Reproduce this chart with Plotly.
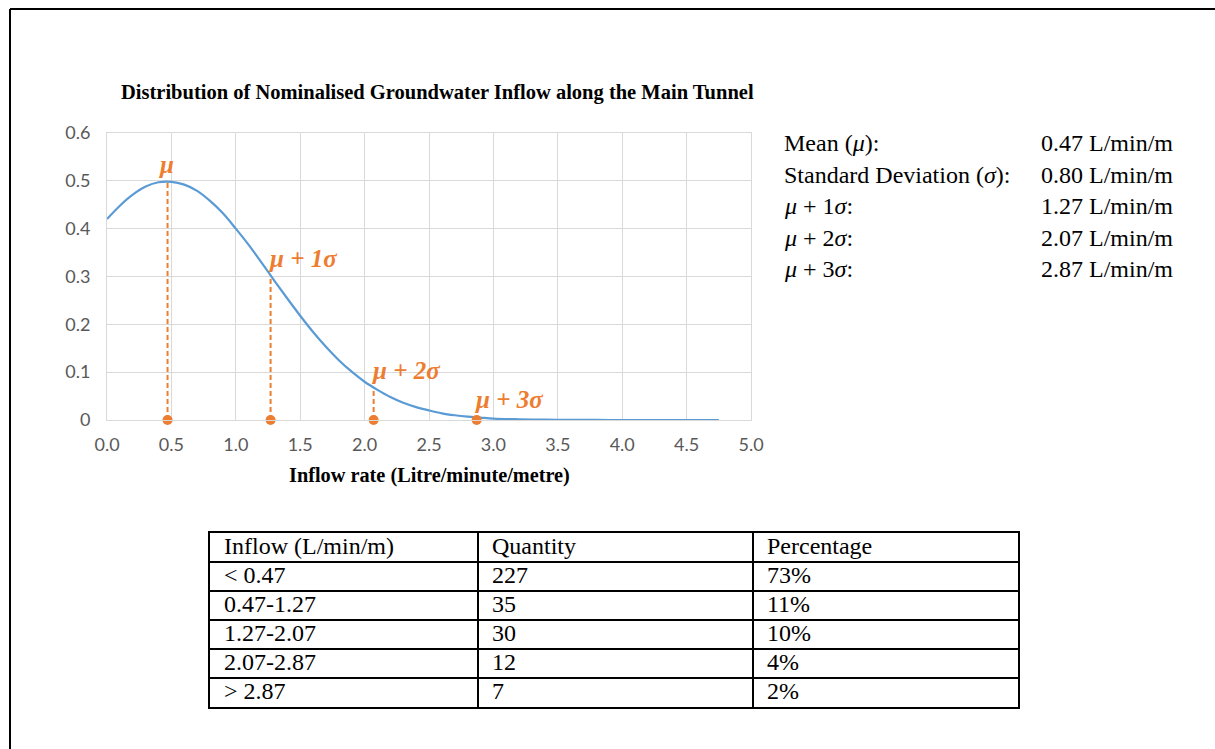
import plotly.graph_objects as go

# body margin is removed by a post script -> figure fills the 1215x749 page
OFF = 0
W, H = 1215, 749

# ---------------- data ----------------
curve_x = [0.0, 0.1, 0.2, 0.3, 0.4, 0.5, 0.6, 0.7, 0.8, 0.9, 1.0, 1.1, 1.2, 1.3, 1.4,
           1.5, 1.6, 1.7, 1.8, 1.9, 2.0, 2.1, 2.2, 2.3, 2.4, 2.5, 2.6, 2.7, 2.8, 2.9,
           3.0, 3.2, 3.4, 3.6, 3.8, 4.0, 4.2, 4.4, 4.6, 4.75]
curve_y = [0.420, 0.448, 0.471, 0.488, 0.497, 0.498, 0.492, 0.479, 0.458, 0.432,
           0.400, 0.366, 0.329, 0.291, 0.254, 0.218, 0.184, 0.153, 0.125, 0.101,
           0.080, 0.063, 0.048, 0.036, 0.027, 0.020, 0.014, 0.010, 0.007, 0.005,
           0.003, 0.0015, 0.0006, 0.0002, 0.0001, 0.0, 0.0, 0.0, 0.0, 0.0]

sigma_x = [0.47, 1.27, 2.07, 2.87]
sigma_y = [0.499, 0.302, 0.068, 0.006]
sigma_labels = ["μ", "μ + 1σ", "μ + 2σ", "μ + 3σ"]

x_ticks = [0.0, 0.5, 1.0, 1.5, 2.0, 2.5, 3.0, 3.5, 4.0, 4.5, 5.0]
y_ticks = [0, 0.1, 0.2, 0.3, 0.4, 0.5, 0.6]

stat_labels = ["Mean (<i>μ</i>):", "Standard Deviation (<i>σ</i>):",
               "<i>μ</i> + 1<i>σ</i>:", "<i>μ</i> + 2<i>σ</i>:", "<i>μ</i> + 3<i>σ</i>:"]
stat_values = ["0.47 L/min/m", "0.80 L/min/m", "1.27 L/min/m", "2.07 L/min/m", "2.87 L/min/m"]

table_header = ["Inflow (L/min/m)", "Quantity", "Percentage"]
inflow_ranges = ["< 0.47", "0.47-1.27", "1.27-2.07", "2.07-2.87", "> 2.87"]
quantities = [227, 35, 30, 12, 7]
percentages = ["73%", "11%", "10%", "4%", "2%"]

# ---------------- styling ----------------
BLUE = "#5B9BD5"
ORANGE = "#ED7D31"
GRID = "#D9D9D9"
SERIF = "Liberation Serif"
TXT = 24


def px_x(p):
    return (p - OFF) / W


def px_y(p):
    return 1 - (p - OFF) / H


fig = go.Figure()

# dashed drop lines
for xv, yv in zip(sigma_x, sigma_y):
    fig.add_trace(go.Scatter(x=[xv, xv], y=[0, yv], mode="lines",
                             line=dict(color=ORANGE, width=2, dash="5px,3px"),
                             showlegend=False, hoverinfo="skip"))

# curve
fig.add_trace(go.Scatter(x=curve_x, y=curve_y, mode="lines",
                         line=dict(color=BLUE, width=2.2, shape="spline"),
                         showlegend=False))

# markers on the axis
fig.add_trace(go.Scatter(x=sigma_x, y=[0] * len(sigma_x), mode="markers",
                         marker=dict(color=ORANGE, size=10), cliponaxis=False,
                         showlegend=False))

# sigma labels
for i, (xv, yv, lab) in enumerate(zip(sigma_x, sigma_y, sigma_labels)):
    fig.add_annotation(x=xv - 0.01 if i == 0 else xv - 0.035, y=yv + 0.036,
                       xref="x", yref="y", text=f"<b><i>{lab}</i></b>",
                       showarrow=False, xanchor="center" if i == 0 else "left",
                       yanchor="middle",
                       font=dict(family=SERIF, size=25, color=ORANGE))

# ---------------- table (on its own axes) ----------------
col_edges = [0, 268, 543, 808]
col_pad = 14
table_cols = [[table_header[0]] + inflow_ranges,
              [table_header[1]] + [str(q) for q in quantities],
              [table_header[2]] + percentages]
n_rows = len(inflow_ranges) + 1
for c, col in enumerate(table_cols):
    fig.add_trace(go.Scatter(
        x=[col_edges[c] + col_pad] * n_rows,
        y=[r + 0.5 for r in range(n_rows)],
        mode="text", text=col, textposition="middle right",
        textfont=dict(family=SERIF, size=TXT, color="black"),
        xaxis="x2", yaxis="y2", cliponaxis=False, showlegend=False,
        hoverinfo="skip"))

# stats text at right
row_y = [143, 174.5, 206, 237.5, 269]
for ly, lab, val in zip(row_y, stat_labels, stat_values):
    fig.add_annotation(x=px_x(782), y=px_y(ly), xref="paper", yref="paper",
                       text=lab, showarrow=False, xanchor="left", yanchor="middle",
                       font=dict(family=SERIF, size=TXT, color="black"))
    fig.add_annotation(x=px_x(1039), y=px_y(ly), xref="paper", yref="paper",
                       text=val, showarrow=False, xanchor="left", yanchor="middle",
                       font=dict(family=SERIF, size=TXT, color="black"))

# chart title
fig.add_annotation(x=px_x(437), y=px_y(92), xref="paper", yref="paper",
                   text="<b>Distribution of Nominalised Groundwater Inflow along the Main Tunnel</b>",
                   showarrow=False, xanchor="center", yanchor="middle",
                   font=dict(family=SERIF, size=20.5, color="black"))

# x axis title
fig.add_annotation(x=px_x(429), y=px_y(476), xref="paper", yref="paper",
                   text="<b>Inflow rate (Litre/minute/metre)</b>",
                   showarrow=False, xanchor="center", yanchor="middle",
                   font=dict(family=SERIF, size=20.3, color="black"))

# outer frame
fig.add_shape(type="line", xref="paper", yref="paper",
              x0=px_x(10), x1=1.0, y0=px_y(9), y1=px_y(9),
              line=dict(color="black", width=2))
fig.add_shape(type="line", xref="paper", yref="paper",
              x0=px_x(10), x1=px_x(10), y0=px_y(9), y1=0.0,
              line=dict(color="black", width=2))

fig.update_layout(
    width=W, height=H,
    margin=dict(l=0, r=0, t=0, b=0, pad=0, autoexpand=False),
    paper_bgcolor="white", plot_bgcolor="white",
    showlegend=False,
    xaxis=dict(domain=[px_x(107), px_x(751)], range=[0, 5], automargin=False,
               tickvals=x_ticks, tickformat=".1f",
               showgrid=True, gridcolor=GRID, gridwidth=1, zeroline=False,
               showline=True, linecolor=GRID, linewidth=1, mirror=True,
               ticks="outside", ticklen=8, tickcolor="rgba(0,0,0,0)",
               tickfont=dict(family="Lato", size=18, color="#595959"),
               fixedrange=True),
    yaxis=dict(domain=[px_y(420), px_y(133)], range=[0, 0.6], automargin=False,
               tickvals=y_ticks,
               showgrid=True, gridcolor=GRID, gridwidth=1, zeroline=False,
               showline=True, linecolor=GRID, linewidth=1, mirror=True,
               ticks="outside", ticklen=12, tickcolor="rgba(0,0,0,0)",
               tickfont=dict(family="Lato", size=18, color="#595959"),
               fixedrange=True),
    xaxis2=dict(domain=[px_x(210), px_x(1018)], range=[0, col_edges[-1]],
                anchor="y2", tickvals=col_edges, showticklabels=False, automargin=False,
                showgrid=True, gridcolor="black", gridwidth=2, zeroline=False,
                showline=True, linecolor="black", linewidth=2, mirror=True,
                ticks="", fixedrange=True),
    yaxis2=dict(domain=[px_y(707), px_y(533)], range=[n_rows, 0],
                anchor="x2", tickvals=list(range(n_rows + 1)), showticklabels=False,
                automargin=False,
                showgrid=True, gridcolor="black", gridwidth=2, zeroline=False,
                showline=True, linecolor="black", linewidth=2, mirror=True,
                ticks="", fixedrange=True),
)

fig.write_html("out.html", config={"displayModeBar": False},
               post_script="document.body.style.margin='0';")
